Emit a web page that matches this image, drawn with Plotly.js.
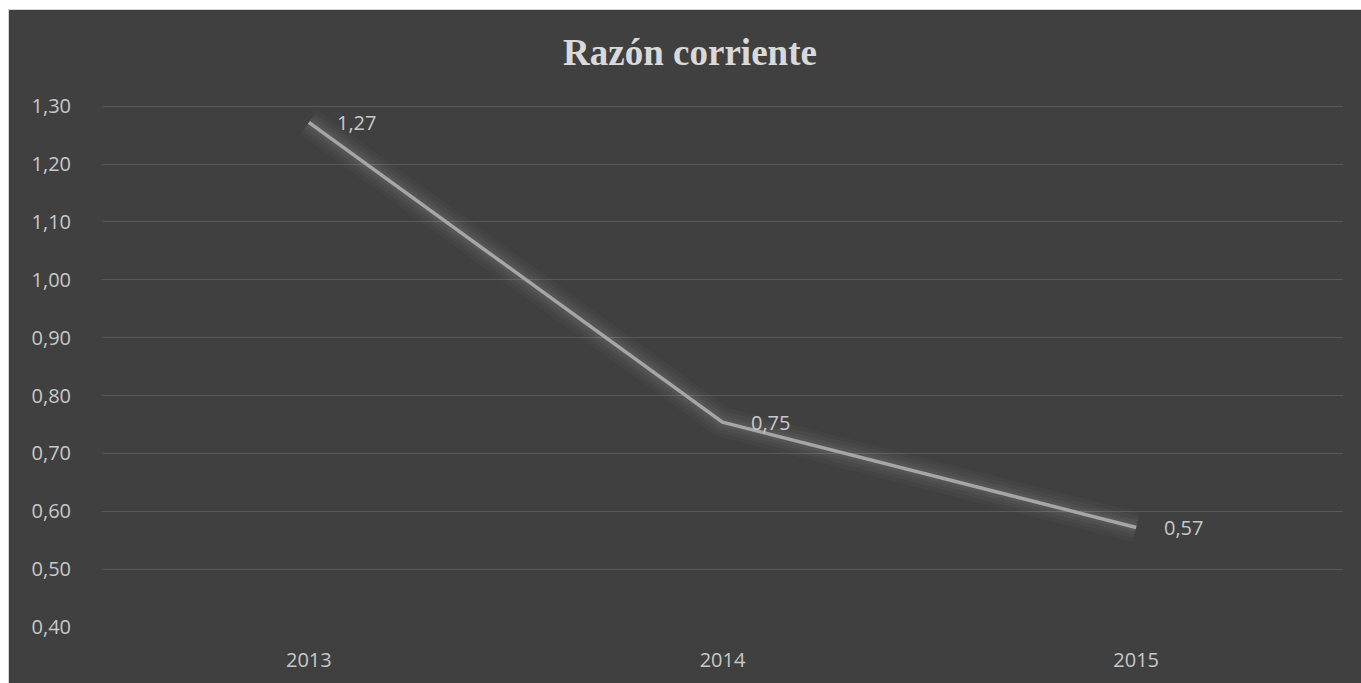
<!DOCTYPE html>
<html>
<head>
<meta charset="utf-8">
<script src="https://cdn.plot.ly/plotly-3.0.1.min.js"></script>
<style>
  html, body { margin: 0; padding: 0; background: #ffffff; width: 1361px; height: 683px; overflow: hidden; }
  #frame { position: absolute; left: 8px; top: 9px; width: 1353px; height: 674px; border-left: 1px solid #d4d4d4; border-top: 1px solid #d4d4d4; box-sizing: border-box; }
  #chart { position: absolute; left: 9px; top: 10px; width: 1352px; height: 673px; }
</style>
</head>
<body>
<div id="frame"></div>
<div id="chart"></div>
<script>
const titleText = "Razón corriente";
const years = ["2013", "2014", "2015"];
const ratio = [1.272, 0.754, 0.572];
const yTicks = [0.4, 0.5, 0.6, 0.7, 0.8, 0.9, 1.0, 1.1, 1.2, 1.3];

const bg = "#404040";
const lineColor = "#a6a6a6";
const textColor = "#c8c8c8";
const labelFont = "Open Sans, Liberation Sans, sans-serif";

const fmt = v => v.toFixed(2).replace(".", ",");

const glow = [[30, 0.025], [22, 0.03], [15, 0.035], [9, 0.04]];
const traces = glow.map(g => ({
  x: years, y: ratio, type: "scatter", mode: "lines",
  line: { color: "rgba(255,255,255," + g[1] + ")", width: g[0] },
  hoverinfo: "skip", showlegend: false
}));
traces.push({ x: years, y: ratio, type: "scatter", mode: "lines",
  line: { color: lineColor, width: 3.5 }, showlegend: false });

const annotations = years.map((yr, i) => ({
  x: i, y: ratio[i], xref: "x", yref: "y",
  text: fmt(ratio[i]), showarrow: false,
  xanchor: "left", yanchor: "middle", xshift: 26,
  font: { family: labelFont, size: 20, color: textColor }
}));

const layout = {
  width: 1352, height: 673,
  paper_bgcolor: bg, plot_bgcolor: bg,
  separators: ",.",
  margin: { l: 93, r: 18, t: 95, b: 56, pad: 0 },
  title: {
    text: "<b>" + titleText + "</b>",
    font: { family: "Liberation Serif, Times New Roman, serif", size: 37, color: "#d9d9d9" },
    x: (690 - 9) / 1352, xanchor: "center", xref: "container",
    y: 1 - (52 - 10) / 673, yanchor: "middle", yref: "container"
  },
  xaxis: {
    type: "category", range: [-0.5, 2.5],
    showgrid: false, zeroline: false, showline: false,
    ticks: "outside", ticklen: 15, tickcolor: "rgba(0,0,0,0)",
    tickfont: { family: labelFont, size: 20, color: textColor },
    fixedrange: true
  },
  yaxis: {
    range: [0.4, 1.302], tickvals: yTicks, ticktext: yTicks.map(fmt),
    showgrid: true, gridcolor: "#595959", gridwidth: 1,
    zeroline: false, showline: false,
    ticks: "outside", ticklen: 26, tickcolor: "rgba(0,0,0,0)",
    tickfont: { family: labelFont, size: 20, color: textColor },
    fixedrange: true
  },
  annotations: annotations,
  showlegend: false
};

Plotly.newPlot("chart", traces, layout, { displayModeBar: false, staticPlot: true });
</script>
</body>
</html>
